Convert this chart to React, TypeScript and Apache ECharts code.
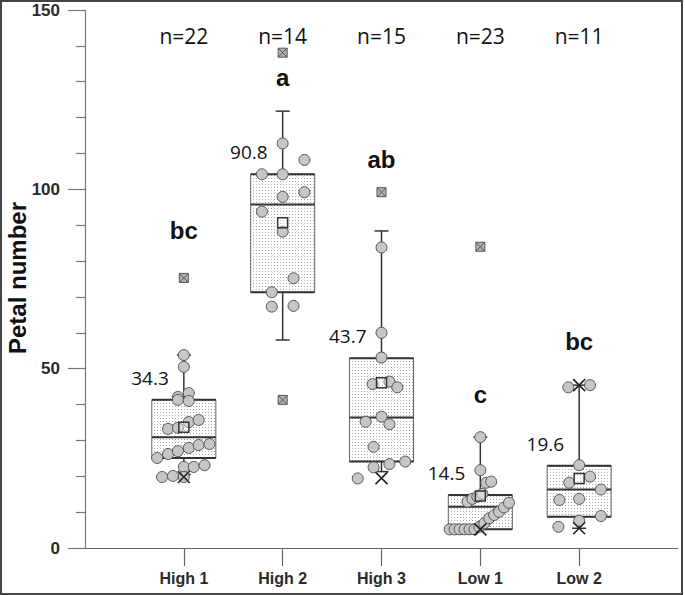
import React, { useEffect, useRef } from 'react';
import * as echarts from 'echarts';

const categories = ['High 1', 'High 2', 'High 3', 'Low 1', 'Low 2'];
const sampleSizes = [22, 14, 15, 23, 11];
const groupLetters = ['bc', 'a', 'ab', 'c', 'bc'];
const letterHeights = [88.4, 131.3, 108.2, 42.7, 57.7];
const meanLabels = ['34.3', '90.8', '43.7', '14.5', '19.6'];
const meanMarkers = [33.7, 90.7, 46.1, 14.5, 19.4];

const whiskerLow = [20.5, 58.0, 21.3, 5.2, 5.5];
const quartile1 = [25.1, 71.3, 24.1, 5.2, 8.7];
const medians = [30.9, 95.8, 36.4, 11.5, 16.3];
const quartile3 = [41.3, 104.2, 52.9, 14.8, 22.9];
const whiskerHigh = [53.8, 121.8, 88.4, 30.9, 45.4];

const high1Values = [53.8, 50.5, 42.1, 43.2, 41.3, 41.0, 33.2, 33.5, 35.1, 35.7, 25.1, 26.2, 27.0, 27.9, 28.7, 29.0, 22.6, 22.6, 23.1, 19.8, 20.1, 19.8];
const high1Jitter = [0, 0, -0.06, 0.05, -0.06, 0.05, -0.16, -0.06, 0.05, 0.15, -0.27, -0.16, -0.06, 0.05, 0.15, 0.26, 0, 0.1, 0.21, -0.22, -0.11, 0];

const high2Values = [112.8, 108.2, 104.2, 104.2, 97.9, 99.2, 93.8, 88.2, 75.2, 71.3, 67.3, 67.5];
const high2Jitter = [0, 0.22, -0.21, 0, 0, 0.22, -0.21, 0, 0.11, -0.11, -0.11, 0.11];

const high3Values = [83.8, 60.0, 53.1, 45.7, 46.4, 44.8, 36.6, 35.2, 34.5, 28.2, 22.5, 23.4, 24.1, 19.4];
const high3Jitter = [0, 0, 0, -0.09, 0.08, 0.16, 0, -0.16, 0.08, -0.08, -0.08, 0.08, 0.24, -0.24];

const low1Values = [30.9, 21.7, 18.2, 18.5, 12.9, 13.7, 14.3, 15.1, 5.2, 5.2, 5.2, 5.2, 5.2, 5.2, 5.9, 6.9, 8.3, 9.2, 10.1, 11.3, 12.6];
const low1Jitter = [0, 0, 0.06, 0.11, -0.13, -0.08, -0.03, 0.02, -0.31, -0.26, -0.21, -0.16, -0.11, -0.06, -0.01, 0.04, 0.09, 0.14, 0.19, 0.24, 0.29];

const low2Values = [44.8, 45.4, 23.1, 19.9, 18.2, 16.3, 13.4, 13.7, 8.9, 7.6, 5.9];
const low2Jitter = [-0.11, 0.11, 0, 0.11, -0.1, 0.22, -0.2, 0, 0.22, 0, -0.21];

const outlierGroups = [0, 1, 1, 2, 3];
const outlierValues = [75.3, 138.1, 41.3, 99.2, 84.0];
const extremeGroups = [0, 2, 3, 4, 4];
const extremeValues = [19.8, 19.5, 5.2, 45.4, 5.5];

const nLabelLevel = 142.8;

const groupValues = [high1Values, high2Values, high3Values, low1Values, low2Values];
const groupJitter = [high1Jitter, high2Jitter, high3Jitter, low1Jitter, low2Jitter];

const ARIAL = '"Liberation Sans", Arial, sans-serif';
const OPEN = '"Open Sans", "Noto Sans", sans-serif';

export default function App() {
  const ref = useRef<HTMLDivElement>(null);

  useEffect(() => {
    if (!ref.current) return;
    const chart = echarts.init(ref.current, undefined, { renderer: 'svg' });

    const cv = document.createElement('canvas');
    cv.width = 3;
    cv.height = 3;
    const ctx = cv.getContext('2d');
    if (ctx) {
      ctx.fillStyle = '#ffffff';
      ctx.fillRect(0, 0, 3, 3);
      ctx.fillStyle = '#a8a8a8';
      ctx.fillRect(1, 1, 1, 1);
    }
    const pattern: any = { image: cv, repeat: 'repeat', imageWidth: 3, imageHeight: 3 };

    const boxData = categories.map((_, i) => [i + 1, whiskerLow[i], quartile1[i], medians[i], quartile3[i], whiskerHigh[i]]);
    const pointData: number[][] = [];
    groupValues.forEach((vals, g) => {
      vals.forEach((v, k) => pointData.push([g + 1 + groupJitter[g][k], v]));
    });

    const dark = { stroke: '#333', lineWidth: 1.5 };
    const textLabel = (formatter: any, extra: any) => ({
      show: true,
      position: 'inside',
      formatter,
      color: '#111',
      textBorderWidth: 0,
      textBorderColor: 'transparent',
      opacity: 1,
      ...extra,
    });

    const option: any = {
      animation: false,
      backgroundColor: '#ffffff',
      grid: { left: 85, right: 7, top: 10, bottom: 47 },
      xAxis: {
        type: 'value',
        min: 0,
        max: 6,
        interval: 1,
        axisLine: { show: true, lineStyle: { color: '#666', width: 1.2 } },
        axisTick: { show: true, length: 18, customValues: [1, 2, 3, 4, 5], lineStyle: { color: '#666', width: 1.2 } },
        axisLabel: {
          customValues: [1, 2, 3, 4, 5],
          formatter: (v: number) => categories[Math.round(v) - 1] || '',
          margin: 22,
          fontFamily: ARIAL,
          fontWeight: 'bold',
          fontSize: 16,
          color: '#2a2a2a',
        },
        splitLine: { show: false },
      },
      yAxis: {
        type: 'value',
        min: 0,
        max: 150,
        interval: 50,
        offset: 5,
        axisLine: { show: true, lineStyle: { color: '#777', width: 1.2 } },
        axisTick: { show: true, length: 17, lineStyle: { color: '#777', width: 1.2 } },
        minorTick: { show: true, splitNumber: 5, length: 9, lineStyle: { color: '#777', width: 1.2 } },
        splitLine: { show: false },
        axisLabel: { margin: 20, fontFamily: ARIAL, fontWeight: 'bold', fontSize: 17, color: '#2a2a2a' },
      },
      graphic: [
        {
          type: 'rect',
          shape: { x: 1, y: 1, width: 681, height: 593 },
          style: { fill: 'none', stroke: '#444', lineWidth: 2 },
          silent: true,
        },
        {
          type: 'text',
          x: 17,
          y: 278,
          rotation: Math.PI / 2,
          style: {
            text: 'Petal number',
            fontFamily: ARIAL,
            fontWeight: 'bold',
            fontSize: 24,
            fill: '#111',
            align: 'center',
            verticalAlign: 'middle',
          },
        },
      ],
      series: [
        {
          type: 'custom',
          z: 1,
          data: boxData,
          renderItem: (params: any, api: any) => {
            const xv = api.value(0);
            const lo = api.coord([xv, api.value(1)]);
            const b1 = api.coord([xv, api.value(2)]);
            const md = api.coord([xv, api.value(3)]);
            const b3 = api.coord([xv, api.value(4)]);
            const hi = api.coord([xv, api.value(5)]);
            const half = api.size([0.648, 0])[0] / 2;
            const cap = 7;
            const cx = lo[0];
            return {
              type: 'group',
              children: [
                { type: 'line', shape: { x1: cx, y1: hi[1], x2: cx, y2: b3[1] }, style: dark },
                { type: 'line', shape: { x1: cx, y1: b1[1], x2: cx, y2: lo[1] }, style: dark },
                { type: 'line', shape: { x1: cx - cap, y1: hi[1], x2: cx + cap, y2: hi[1] }, style: dark },
                { type: 'line', shape: { x1: cx - cap, y1: lo[1], x2: cx + cap, y2: lo[1] }, style: dark },
                {
                  type: 'rect',
                  shape: { x: cx - half, y: b3[1], width: 2 * half, height: b1[1] - b3[1] },
                  style: { fill: pattern, stroke: '#666', lineWidth: 1 },
                },
                { type: 'line', shape: { x1: cx - half, y1: b3[1], x2: cx + half, y2: b3[1] }, style: { stroke: '#333', lineWidth: 2 } },
                { type: 'line', shape: { x1: cx - half, y1: b1[1], x2: cx + half, y2: b1[1] }, style: { stroke: '#333', lineWidth: 2 } },
                { type: 'line', shape: { x1: cx - half, y1: md[1], x2: cx + half, y2: md[1] }, style: { stroke: '#333', lineWidth: 2 } },
              ],
            };
          },
        },
        {
          type: 'scatter',
          z: 2,
          symbol: 'circle',
          symbolSize: 11,
          itemStyle: { color: '#c6c6c6', borderColor: '#555', borderWidth: 1, opacity: 1 },
          data: pointData,
        },
        {
          type: 'scatter',
          z: 3,
          symbol: 'rect',
          symbolSize: 10,
          itemStyle: { color: 'rgba(255,255,255,0.35)', borderColor: '#333', borderWidth: 1.5, opacity: 1 },
          data: meanMarkers.map((v, i) => [i + 1, v]),
        },
        {
          type: 'scatter',
          z: 4,
          symbol: 'path://M0,0H10V10H0Z M0,0L10,10 M10,0L0,10',
          symbolSize: 9,
          itemStyle: { color: '#b4b4b4', borderColor: '#555', borderWidth: 1, opacity: 1 },
          data: outlierValues.map((v, i) => [outlierGroups[i] + 1, v]),
        },
        {
          type: 'scatter',
          z: 5,
          symbol: 'path://M0,0L10,10M10,0L0,10',
          symbolSize: 12,
          itemStyle: { color: 'none', borderColor: '#222', borderWidth: 1.6, opacity: 1 },
          data: extremeValues.map((v, i) => [extremeGroups[i] + 1, v]),
        },
        {
          type: 'scatter',
          z: 6,
          symbolSize: 1,
          itemStyle: { color: 'rgba(0,0,0,0)' },
          label: textLabel((p: any) => 'n=' + sampleSizes[p.dataIndex], { fontFamily: OPEN, fontSize: 21 }),
          data: categories.map((_, i) => [i + 1, nLabelLevel]),
        },
        {
          type: 'scatter',
          z: 6,
          symbolSize: 1,
          itemStyle: { color: 'rgba(0,0,0,0)' },
          label: textLabel((p: any) => groupLetters[p.dataIndex], { fontFamily: ARIAL, fontWeight: 'bold', fontSize: 24 }),
          data: letterHeights.map((v, i) => [i + 1, v]),
        },
        {
          type: 'scatter',
          z: 6,
          symbolSize: 1,
          itemStyle: { color: 'rgba(0,0,0,0)' },
          label: textLabel((p: any) => meanLabels[p.dataIndex], {
            fontFamily: OPEN,
            fontSize: 19,
            align: 'right',
            offset: [-15, -22],
          }),
          data: quartile3.map((v, i) => [i + 1, v]),
        },
      ],
    };

    chart.setOption(option);
    return () => chart.dispose();
  }, []);

  return (
    <div
      ref={ref}
      style={{ position: 'absolute', left: 0, top: 0, width: 685, height: 595, background: '#fff' }}
    />
  );
}
